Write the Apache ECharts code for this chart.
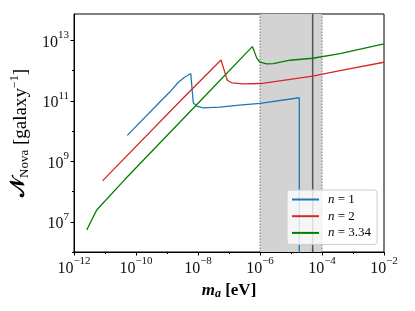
<!DOCTYPE html>
<html><head><meta charset="utf-8">
<script src="https://cdn.jsdelivr.net/npm/echarts@6/dist/echarts.min.js"></script>
<style>html,body{margin:0;padding:0;background:#fff}#c{width:415px;height:311px}</style>
</head><body><div id="c"></div>
<script>
// ---- data ----
const seriesNames = ['n = 1', 'n = 2', 'n = 3.34'];
const blueX = [5.24e-11, 7.05e-10, 1.25e-9, 2.32e-9, 3.6e-9, 5.82e-9, 7.05e-9, 9.08e-9, 1.45e-8, 5.13e-8, 1.77e-7, 1e-6, 1.85e-5, 1.85e-5];
const blueY = [7.16e9, 1.10e11, 1.98e11, 4.11e11, 5.9e11, 7.96e11, 8.59e10, 6.64e10, 5.87e10, 6.15e10, 7.00e10, 8.15e10, 1.26e11, 1e5];
const redX = [8.30e-12, 2.98e-9, 5.52e-8, 7.43e-8, 8.81e-8, 1.22e-7, 2.89e-7, 1.05e-6, 5.01e-5, 3.81e-4, 1e-2];
const redY = [2.25e8, 1.10e11, 2.22e12, 8.39e11, 4.79e11, 3.93e11, 3.64e11, 3.72e11, 6.49e11, 1.0e12, 1.88e12];
const greenX = [2.57e-12, 5.40e-12, 4.42e-11, 1.16e-8, 5.65e-7, 7.83e-7, 1e-6, 1.64e-6, 2.69e-6, 9.29e-6, 5.01e-5, 3.81e-4, 1e-2];
const greenY = [5.36e6, 2.45e7, 2.53e8, 9.70e10, 6.19e12, 2.62e12, 1.88e12, 1.67e12, 1.70e12, 2.19e12, 2.55e12, 3.64e12, 7.60e12];
const xMajorTicks = [1e-12, 1e-10, 1e-8, 1e-6, 1e-4, 1e-2];
const xMinorTicks = [1e-11, 1e-9, 1e-7, 1e-5, 1e-3];
const yMajorTicks = [1e7, 1e9, 1e11, 1e13];
const yMinorTicks = [1e6, 1e8, 1e10, 1e12];
const shadedBand = [1e-6, 1e-4];
const solidLineX = 5e-5;
const xRange = [1e-12, 1e-2];
const yRange = [1e6, 7.4e13];
const colors = ['#1f77b4', '#d62728', '#008000'];

const FONT = '"Liberation Serif", "DejaVu Serif", serif';
function pair(xs, ys) { return xs.map((x, i) => [x, ys[i]]); }
function expLabel(v) {
  const e = Math.round(Math.log10(v));
  const s = e < 0 ? '\u2212' + (-e) : '' + e;
  return '{b|10}{s|' + s + '}';
}
const richExp = {
  b: { fontFamily: FONT, fontSize: 16, color: '#111', verticalAlign: 'bottom', padding: [5, 0, 0, 0] },
  s: { fontFamily: FONT, fontSize: 11, color: '#111', verticalAlign: 'top' }
};

const chart = echarts.init(document.getElementById('c'), null, { renderer: 'canvas' });
const grid = { left: 74, right: 31, top: 14, bottom: 59, show: true, borderColor: '#000', borderWidth: 1, backgroundColor: 'transparent' };

function xAxisDef(major) {
  return {
    type: 'log', logBase: 10, min: xRange[0], max: xRange[1], position: 'bottom',
    splitLine: { show: false },
    axisLine: { show: major, lineStyle: { color: '#000', width: 1 } },
    axisTick: { show: true, length: major ? 3.5 : 2, lineStyle: { color: '#000' }, customValues: major ? xMajorTicks : xMinorTicks },
    axisLabel: major ? { show: true, customValues: xMajorTicks, formatter: expLabel, rich: richExp, margin: 4 } : { show: false },
    name: major ? '{m|m}{a|a}{t| [eV]}' : '', nameLocation: 'middle', nameGap: 25,
    nameTextStyle: { rich: {
      m: { fontFamily: FONT, fontSize: 17, fontWeight: 'bold', fontStyle: 'italic', color: '#000', verticalAlign: 'top' },
      a: { fontFamily: FONT, fontSize: 12, fontWeight: 'bold', fontStyle: 'italic', color: '#000', verticalAlign: 'bottom', padding: [6, 0, 0, 0] },
      t: { fontFamily: FONT, fontSize: 17, fontWeight: 'bold', color: '#000', verticalAlign: 'top' }
    } }
  };
}
function yAxisDef(major) {
  return {
    type: 'log', logBase: 10, min: yRange[0], max: yRange[1], position: 'left',
    splitLine: { show: false },
    axisLine: { show: major, lineStyle: { color: '#000', width: 1 } },
    axisTick: { show: true, length: major ? 3.5 : 2, lineStyle: { color: '#000' }, customValues: major ? yMajorTicks : yMinorTicks },
    axisLabel: major ? { show: true, customValues: yMajorTicks, formatter: expLabel, rich: richExp, margin: 5 } : { show: false },
    name: major ? '{n|\uD835\uDCA9}{sub|Nova}{t| [galaxy}{sup|\u22121}{t|]}' : '',
    nameLocation: 'middle', nameGap: 37, nameRotate: 90,
    nameTextStyle: { rich: {
      n: { fontFamily: '"DejaVu Serif", "DejaVu Sans", serif', fontSize: 20, fontWeight: 'bold', color: '#000', verticalAlign: 'top' },
      sub: { fontFamily: FONT, fontSize: 13, color: '#000', verticalAlign: 'bottom', padding: [9, 0, 0, 0] },
      t: { fontFamily: FONT, fontSize: 19, color: '#000', verticalAlign: 'top', padding: [2, 0, 0, 0] },
      sup: { fontFamily: FONT, fontSize: 12, color: '#000', verticalAlign: 'top' }
    } }
  };
}

const lineSeries = [[blueX, blueY], [redX, redY], [greenX, greenY]].map((d, i) => ({
  name: seriesNames[i], type: 'line', data: pair(d[0], d[1]), showSymbol: false, symbol: 'none',
  lineStyle: { color: colors[i], width: 1.3 }, itemStyle: { color: colors[i] }, z: 3, clip: true, animation: false
}));

function vline(x, style) {
  return { name: 'v' + x, type: 'line', data: [[x, yRange[0]], [x, yRange[1]]], showSymbol: false, symbol: 'none',
    silent: true, z: 2, lineStyle: style, animation: false };
}

const option = {
  animation: false,
  grid: grid,
  xAxis: [xAxisDef(true), xAxisDef(false)],
  yAxis: [yAxisDef(true), yAxisDef(false)],
  legend: {
    data: seriesNames, orient: 'vertical', left: 287, top: 190,
    itemWidth: 27, itemHeight: 14, itemGap: 3.7,
    padding: [3, 6, 5, 4],
    itemStyle: { opacity: 0 },
    backgroundColor: 'rgba(255,255,255,0.8)', borderColor: '#cccccc', borderWidth: 1, borderRadius: 3,
    formatter: function (n) { const p = n.split(' '); return '{i|n}{r| ' + p.slice(1).join(' ') + '}'; },
    textStyle: { padding: [0, 0, 0, 4], rich: {
      i: { fontFamily: FONT, fontSize: 13, fontStyle: 'italic', color: '#000' },
      r: { fontFamily: FONT, fontSize: 13, color: '#000' }
    } }
  },
  series: [{
    name: 'band', type: 'line', data: [], z: 1, silent: true,
    markArea: { silent: true, itemStyle: { color: '#d3d3d3', opacity: 1 },
      data: [[{ xAxis: shadedBand[0] }, { xAxis: shadedBand[1] }]] }
  },
  vline(shadedBand[0], { color: '#777', type: [1.5, 1.5], width: 1 }),
  vline(shadedBand[1], { color: '#777', type: [1.5, 1.5], width: 1 }),
  vline(solidLineX, { color: '#555', type: 'solid', width: 1.5 })
  ].concat(lineSeries)
};
chart.setOption(option);
</script>
</body></html>
